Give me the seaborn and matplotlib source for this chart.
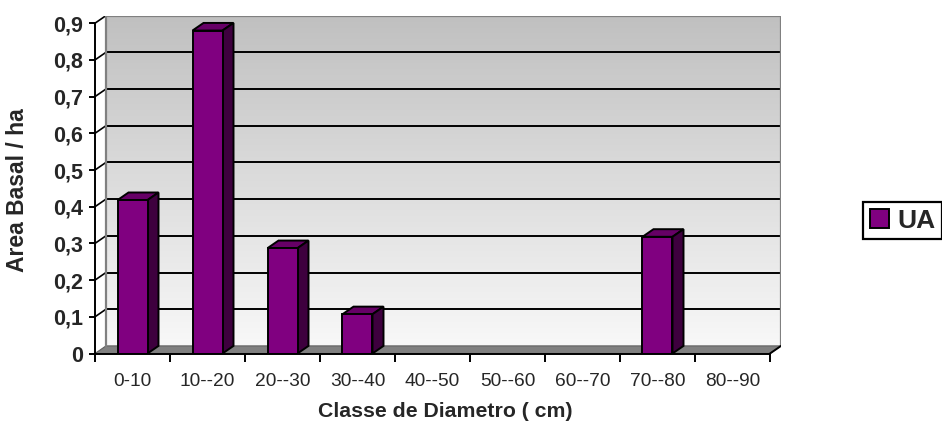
import numpy as np
import pandas as pd
import matplotlib
matplotlib.use("Agg")
import matplotlib.pyplot as plt
from matplotlib.patches import Polygon
from matplotlib.colors import LinearSegmentedColormap
import seaborn as sns

# ---- data ----
categories = ["0-10", "10--20", "20--30", "30--40", "40--50",
              "50--60", "60--70", "70--80", "80--90"]
values = [0.418, 0.88, 0.287, 0.107, 0.0, 0.0, 0.0, 0.318, 0.0]
series_name = "UA"
y_ticks = [0.0, 0.1, 0.2, 0.3, 0.4, 0.5, 0.6, 0.7, 0.8, 0.9]
y_tick_labels = ["0", "0,1", "0,2", "0,3", "0,4", "0,5", "0,6", "0,7", "0,8", "0,9"]
x_title = "Classe de Diametro ( cm)"
y_title = "Area Basal / ha"

df = pd.DataFrame({"classe": categories, "area": values, "serie": series_name})

sns.set_style("white")
plt.rcParams["font.family"] = ["Liberation Sans", "DejaVu Sans"]

W, H = 942, 429
fig = plt.figure(figsize=(W / 100, H / 100), dpi=100)

# axes geometry in pixels
ax_left, ax_right = 95, 781
ax_top, ax_bottom = 15.6, 353.5
ax = fig.add_axes([ax_left / W, 1 - ax_bottom / H,
                   (ax_right - ax_left) / W, (ax_bottom - ax_top) / H])

n = len(categories)
ymax = y_ticks[-1]
px_per_x = 75.0
px_per_y = 367.0
DX = 11.0 / px_per_x
DY = 7.6 / px_per_y
ax.set_xlim(-0.5, n - 0.5 + DX)
ax.set_ylim(0, ymax + DY)

PURPLE = "#800080"
TOP = "#660066"
SIDE = "#3e003e"
EDGE = "black"

# back wall gradient
grad = np.linspace(0, 1, 256).reshape(-1, 1)
cmap = LinearSegmentedColormap.from_list("wall", ["#f8f8f8", "#c0c0c0"])
ax.imshow(grad, cmap=cmap, aspect="auto", origin="lower",
          extent=[-0.5 + DX, n - 0.5 + DX, DY, ymax + DY], zorder=0)

# gridlines on back wall + slanted segments on left wall
for yv in y_ticks[1:-1]:
    ax.plot([-0.5 + DX, n - 0.5 + DX], [yv + DY, yv + DY], color="black", lw=1.4, zorder=1,
            solid_capstyle="butt")
for yv in y_ticks[1:]:
    ax.plot([-0.5, -0.5 + DX], [yv, yv + DY], color="black", lw=1.2, zorder=1)

# wall border
ax.plot([-0.5 + DX, -0.5 + DX, n - 0.5 + DX, n - 0.5 + DX],
        [DY, ymax + DY, ymax + DY, DY], color="#808080", lw=1.6, zorder=1.5)

# floor
floor = Polygon([(-0.5, 0), (n - 0.5, 0), (n - 0.5 + DX, DY), (-0.5 + DX, DY)],
                closed=True, facecolor="#808080", edgecolor="#606060", lw=0.8, zorder=1.2)
ax.add_patch(floor)
ax.plot([n - 0.5, n - 0.5 + DX], [0, DY], color="black", lw=1.4, zorder=1.6)

# bars (front faces)
sns.barplot(data=df, x="classe", y="area", order=categories, color=PURPLE,
            width=0.4, edgecolor=EDGE, linewidth=1.4, saturation=1,
            label=series_name, ax=ax, zorder=3)
ax.set_xlim(-0.5, n - 0.5 + DX)
ax.set_ylim(0, ymax + DY)

for p in list(ax.patches):
    if p is floor:
        continue
    h = p.get_height()
    x0 = p.get_x()
    w = p.get_width()
    if h <= 0:
        p.set_linewidth(0)
        continue
    top = Polygon([(x0, h), (x0 + w, h), (x0 + w + DX, h + DY), (x0 + DX, h + DY)],
                  closed=True, facecolor=TOP, edgecolor=EDGE, lw=1.4, zorder=2.9)
    side = Polygon([(x0 + w, 0), (x0 + w + DX, DY), (x0 + w + DX, h + DY), (x0 + w, h)],
                   closed=True, facecolor=SIDE, edgecolor=EDGE, lw=1.4, zorder=2.9)
    ax.add_patch(top)
    ax.add_patch(side)

# spines
for s in ["top", "right"]:
    ax.spines[s].set_visible(False)
ax.spines["left"].set_bounds(0, ymax)
ax.spines["bottom"].set_bounds(-0.5, n - 0.5)
for s in ["left", "bottom"]:
    ax.spines[s].set_color("black")
    ax.spines[s].set_linewidth(1.4)
    ax.spines[s].set_zorder(4)

# y ticks
ax.set_yticks(y_ticks)
ax.set_yticklabels(y_tick_labels, fontsize=15.5, fontweight="bold")
ax.tick_params(axis="y", direction="out", length=4.3, width=1.4, color="black", pad=4, left=True)

# x ticks: boundaries major, labels minor
ax.set_xticks(np.arange(-0.5, n, 1.0))
ax.set_xticklabels([])
ax.set_xticks(np.arange(n), minor=True)
ax.set_xticklabels(categories, minor=True, fontsize=13.8)
ax.tick_params(axis="x", which="major", direction="out", length=6, width=1.4, color="black", bottom=True)
ax.tick_params(axis="x", which="minor", length=0, pad=14)

ax.set_xlabel(x_title, fontsize=15.3, fontweight="bold")
ax.xaxis.set_label_coords((445 - ax_left) / (ax_right - ax_left), -(402 - ax_bottom) / (ax_bottom - ax_top))
ax.set_ylabel(y_title, fontsize=16.5, fontweight="bold")
ax.yaxis.set_label_coords(-(ax_left - 29) / (ax_right - ax_left), (ax_bottom - 190) / (ax_bottom - ax_top))

ax.grid(False)

leg = ax.legend(loc="upper left", bbox_to_anchor=(863 / W, 1 - 202 / H),
                bbox_transform=fig.transFigure, frameon=True, fancybox=False,
                edgecolor="black", framealpha=1, prop={"weight": "bold", "size": 19},
                handlelength=0.75, handleheight=0.75, handletextpad=0.3,
                borderpad=0.25, borderaxespad=0)
leg.get_frame().set_linewidth(1.6)

fig.savefig("out.png", dpi=100, facecolor="white")
